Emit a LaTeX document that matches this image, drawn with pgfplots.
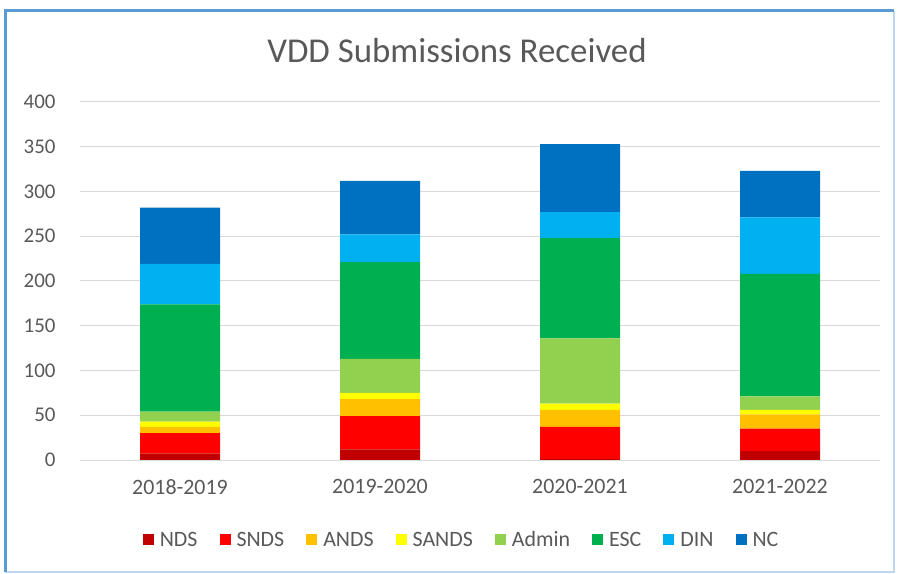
\documentclass[border=0pt]{standalone}
\usepackage{fontspec}
\setmainfont{Carlito}
\usepackage{pgfplots}
\pgfplotsset{compat=1.18}
\definecolor{cNDS}{HTML}{C00000}
\definecolor{cSNDS}{HTML}{FF0000}
\definecolor{cANDS}{HTML}{FFC000}
\definecolor{cSANDS}{HTML}{FFFF00}
\definecolor{cAdmin}{HTML}{92D050}
\definecolor{cESC}{HTML}{00B050}
\definecolor{cDIN}{HTML}{00B0F0}
\definecolor{cNC}{HTML}{0070C0}
\definecolor{txt}{HTML}{595959}
\definecolor{gridc}{HTML}{D9D9D9}
\definecolor{frameA}{HTML}{5B9BD5}
\definecolor{frameB}{HTML}{BDD7EE}
\begin{document}
\begin{tikzpicture}
\useasboundingbox (0,0) rectangle (897bp,574bp);
\fill[white] (0,0) rectangle (897bp,574bp);
% frame
\draw[frameB, line width=2.5bp] (894bp,563bp) -- (894bp,2bp) -- (5bp,2bp);
\draw[frameA, line width=3bp] (5bp,2bp) -- (5bp,563bp) -- (894bp,563bp);
\node[text=txt, font=\fontsize{35}{41}\selectfont] at (457bp,523bp) {VDD Submissions Received};
\begin{axis}[
  at={(80bp,114bp)}, anchor=south west,
  scale only axis, width=800bp, height=358bp,
  xmin=-0.5, xmax=3.5, ymin=0, ymax=400,
  ybar stacked, bar width=80bp,
  xtick={0,1,2,3},
  xticklabels={2018-2019,2019-2020,2020-2021,2021-2022},
  ytick={0,50,...,400},
  ymajorgrids, grid style={gridc, line width=1bp},
  axis line style={draw=none},
  major tick length=0pt,
  /pgf/number format/assume math mode=true,
  ticklabel style={font=\fontsize{21}{24}\selectfont, text=txt},
  yticklabel style={xshift=-21bp},
  xticklabel style={yshift=-16bp, font=\fontsize{22}{26}\selectfont},
  legend columns=8,
  legend style={at={(0.477,-0.223)}, anchor=center, draw=none, fill=none,
    font=\fontsize{22}{26}\selectfont, text=txt,
    /tikz/every odd column/.append style={column sep=4bp},
    /tikz/every even column/.append style={column sep=20bp}},
  legend image code/.code={\fill[#1] (0bp,-5.5bp) rectangle (11bp,5.5bp);},
]
\addplot[fill=cNDS, draw=none] coordinates {(0,7) (1,12) (2,1) (3,10)};
\addplot[fill=cSNDS, draw=none] coordinates {(0,23) (1,37) (2,36) (3,25)};
\addplot[fill=cANDS, draw=none] coordinates {(0,7) (1,19) (2,19) (3,16)};
\addplot[fill=cSANDS, draw=none] coordinates {(0,6) (1,7) (2,7) (3,5)};
\addplot[fill=cAdmin, draw=none] coordinates {(0,11) (1,38) (2,73) (3,15)};
\addplot[fill=cESC, draw=none] coordinates {(0,120) (1,108) (2,112) (3,137)};
\addplot[fill=cDIN, draw=none] coordinates {(0,45) (1,31) (2,29) (3,63)};
\addplot[fill=cNC, draw=none] coordinates {(0,63) (1,60) (2,76) (3,52)};
\legend{NDS,SNDS,ANDS,SANDS,Admin,ESC,DIN,NC}
\end{axis}
\end{tikzpicture}
\end{document}
